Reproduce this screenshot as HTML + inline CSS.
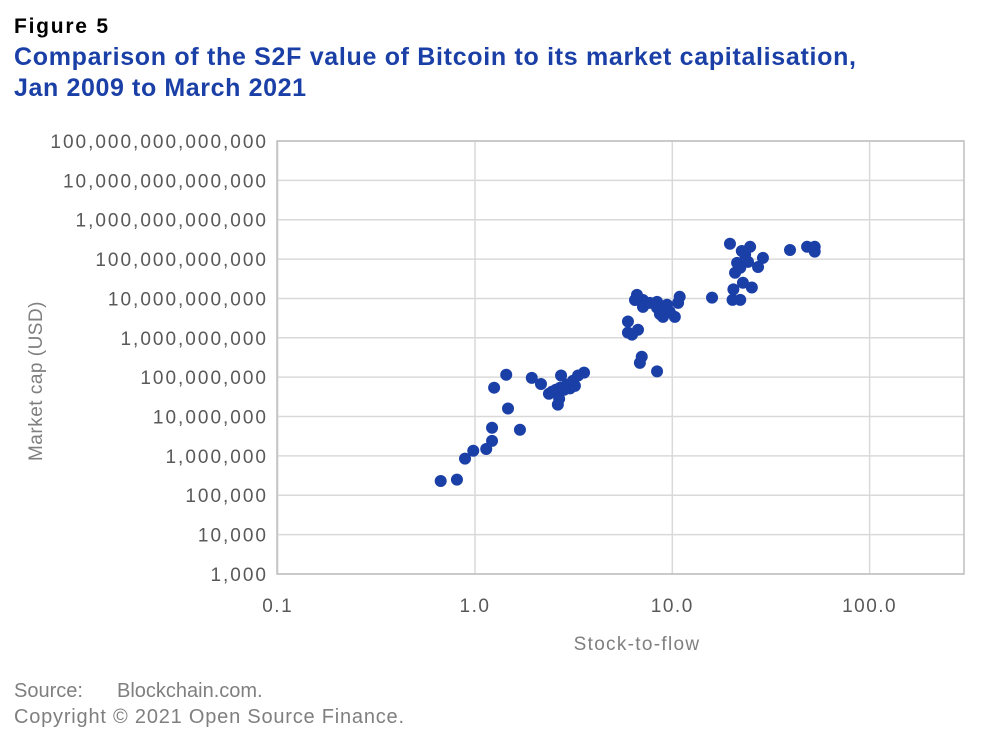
<!DOCTYPE html>
<html><head><meta charset="utf-8"><style>
body{margin:0;background:#fff;width:987px;height:741px;overflow:hidden;font-family:"Liberation Sans",sans-serif}
</style></head><body>
<svg width="987" height="741">
<text x="14" y="33" font-size="21" font-weight="bold" fill="#000" textLength="94">Figure 5</text>
<text x="14" y="65" font-size="25" font-weight="bold" fill="#1a3fa6" textLength="842">Comparison of the S2F value of Bitcoin to its market capitalisation,</text>
<text x="14" y="96" font-size="25" font-weight="bold" fill="#1a3fa6" textLength="292">Jan 2009 to March 2021</text>
<g id="grid"></g>
<rect x="277" y="141" width="687" height="433" fill="none" stroke="#bfbfbf" stroke-width="1.5"/>
<g id="ticks"></g>
<g id="pts"></g>
<text x="637" y="650" font-size="19" fill="#7f7f7f" text-anchor="middle" letter-spacing="1.3">Stock-to-flow</text>
<text transform="translate(42,381) rotate(-90)" font-size="19" fill="#7f7f7f" text-anchor="middle" letter-spacing="0.5">Market cap (USD)</text>
<text x="14" y="697" font-size="20" fill="#7f7f7f">Source:<tspan x="117">Blockchain.com.</tspan></text>
<text x="14" y="723" font-size="20" fill="#7f7f7f" textLength="390">Copyright © 2021 Open Source Finance.</text>
</svg>
<script>
const xTicks=[0.1,1,10,100];
const xTickLabels=["0.1","1.0","10.0","100.0"];
const yTicks=[1e3,1e4,1e5,1e6,1e7,1e8,1e9,1e10,1e11,1e12,1e13,1e14];
const s2f=[0.67,0.81,0.89,0.98,1.14,1.22,1.22,1.47,1.69,1.25,1.44,1.94,2.16,2.37,2.46,2.67,2.63,2.57,2.70,2.83,2.93,3.03,3.14,3.33,3.57,2.73,3.21,
6.62,6.47,7.1,7.1,8.37,8.37,9.4,10.9,10.7,8.97,10.3,9.7,8.66,7.7,5.96,5.96,6.7,6.25,7.0,6.85,8.37,15.9,
19.6,24.8,28.8,27.2,21.3,20.8,22.8,25.3,20.4,20.2,22.1,23.4,22.1,24.2,22.5,39.5,48.2,52.7,52.7];
const mcap=[2.3e5,2.5e5,8.5e5,1.35e6,1.5e6,2.4e6,5.2e6,1.6e7,4.6e6,5.4e7,1.15e8,9.6e7,6.7e7,3.8e7,4.3e7,2.8e7,2.0e7,4.8e7,5.4e7,4.8e7,6.5e7,5.2e7,8.1e7,1.1e8,1.3e8,1.1e8,6e7,
1.23e10,9.1e9,9.1e9,6.1e9,8.2e9,5.8e9,6.9e9,1.1e10,7.7e9,3.4e9,3.4e9,4.6e9,4e9,7.7e9,2.6e9,1.35e9,1.6e9,1.2e9,3.3e8,2.3e8,1.4e8,1.05e10,
2.45e11,2.05e11,1.07e11,6.3e10,8e10,4.5e10,2.5e10,1.9e10,1.7e10,9.2e9,9.2e9,1.3e11,6e10,8.5e10,1.6e11,1.7e11,2.05e11,2.05e11,1.55e11];
const NS="http://www.w3.org/2000/svg";
const X=v=>475+197.3*Math.log10(v);
const Y=v=>141+39.36*(14-Math.log10(v));
function mk(t,a,p){const e=document.createElementNS(NS,t);for(const k in a)e.setAttribute(k,a[k]);p.appendChild(e);return e;}
const grid=document.getElementById('grid'),ticks=document.getElementById('ticks'),pts=document.getElementById('pts');
yTicks.forEach(v=>{const y=Y(v);
 const l=mk('line',{x1:277,x2:964,y1:y,y2:y,stroke:'#d9d9d9','stroke-width':1.5},grid);
 
 
 const t=mk('text',{x:268,y:y+7,'font-size':19,fill:'#595959','text-anchor':'end','letter-spacing':2},ticks);
 t.textContent=v.toLocaleString('en-US');
 
 
});
xTicks.forEach((v,i)=>{const x=X(v);
 const l=mk('line',{x1:x,x2:x,y1:141,y2:574,stroke:'#d9d9d9','stroke-width':1.5},grid);
 
 
 const t=mk('text',{x:x,y:612,'font-size':19,fill:'#595959','text-anchor':'middle','letter-spacing':1.5},ticks);
 t.textContent=xTickLabels[i];
 
 
});
s2f.forEach((v,i)=>{
 const c=mk('circle',{cx:X(v),cy:Y(mcap[i]),r:6,fill:'#1a3fa6'},pts);
 
 
});
</script>
</body></html>
